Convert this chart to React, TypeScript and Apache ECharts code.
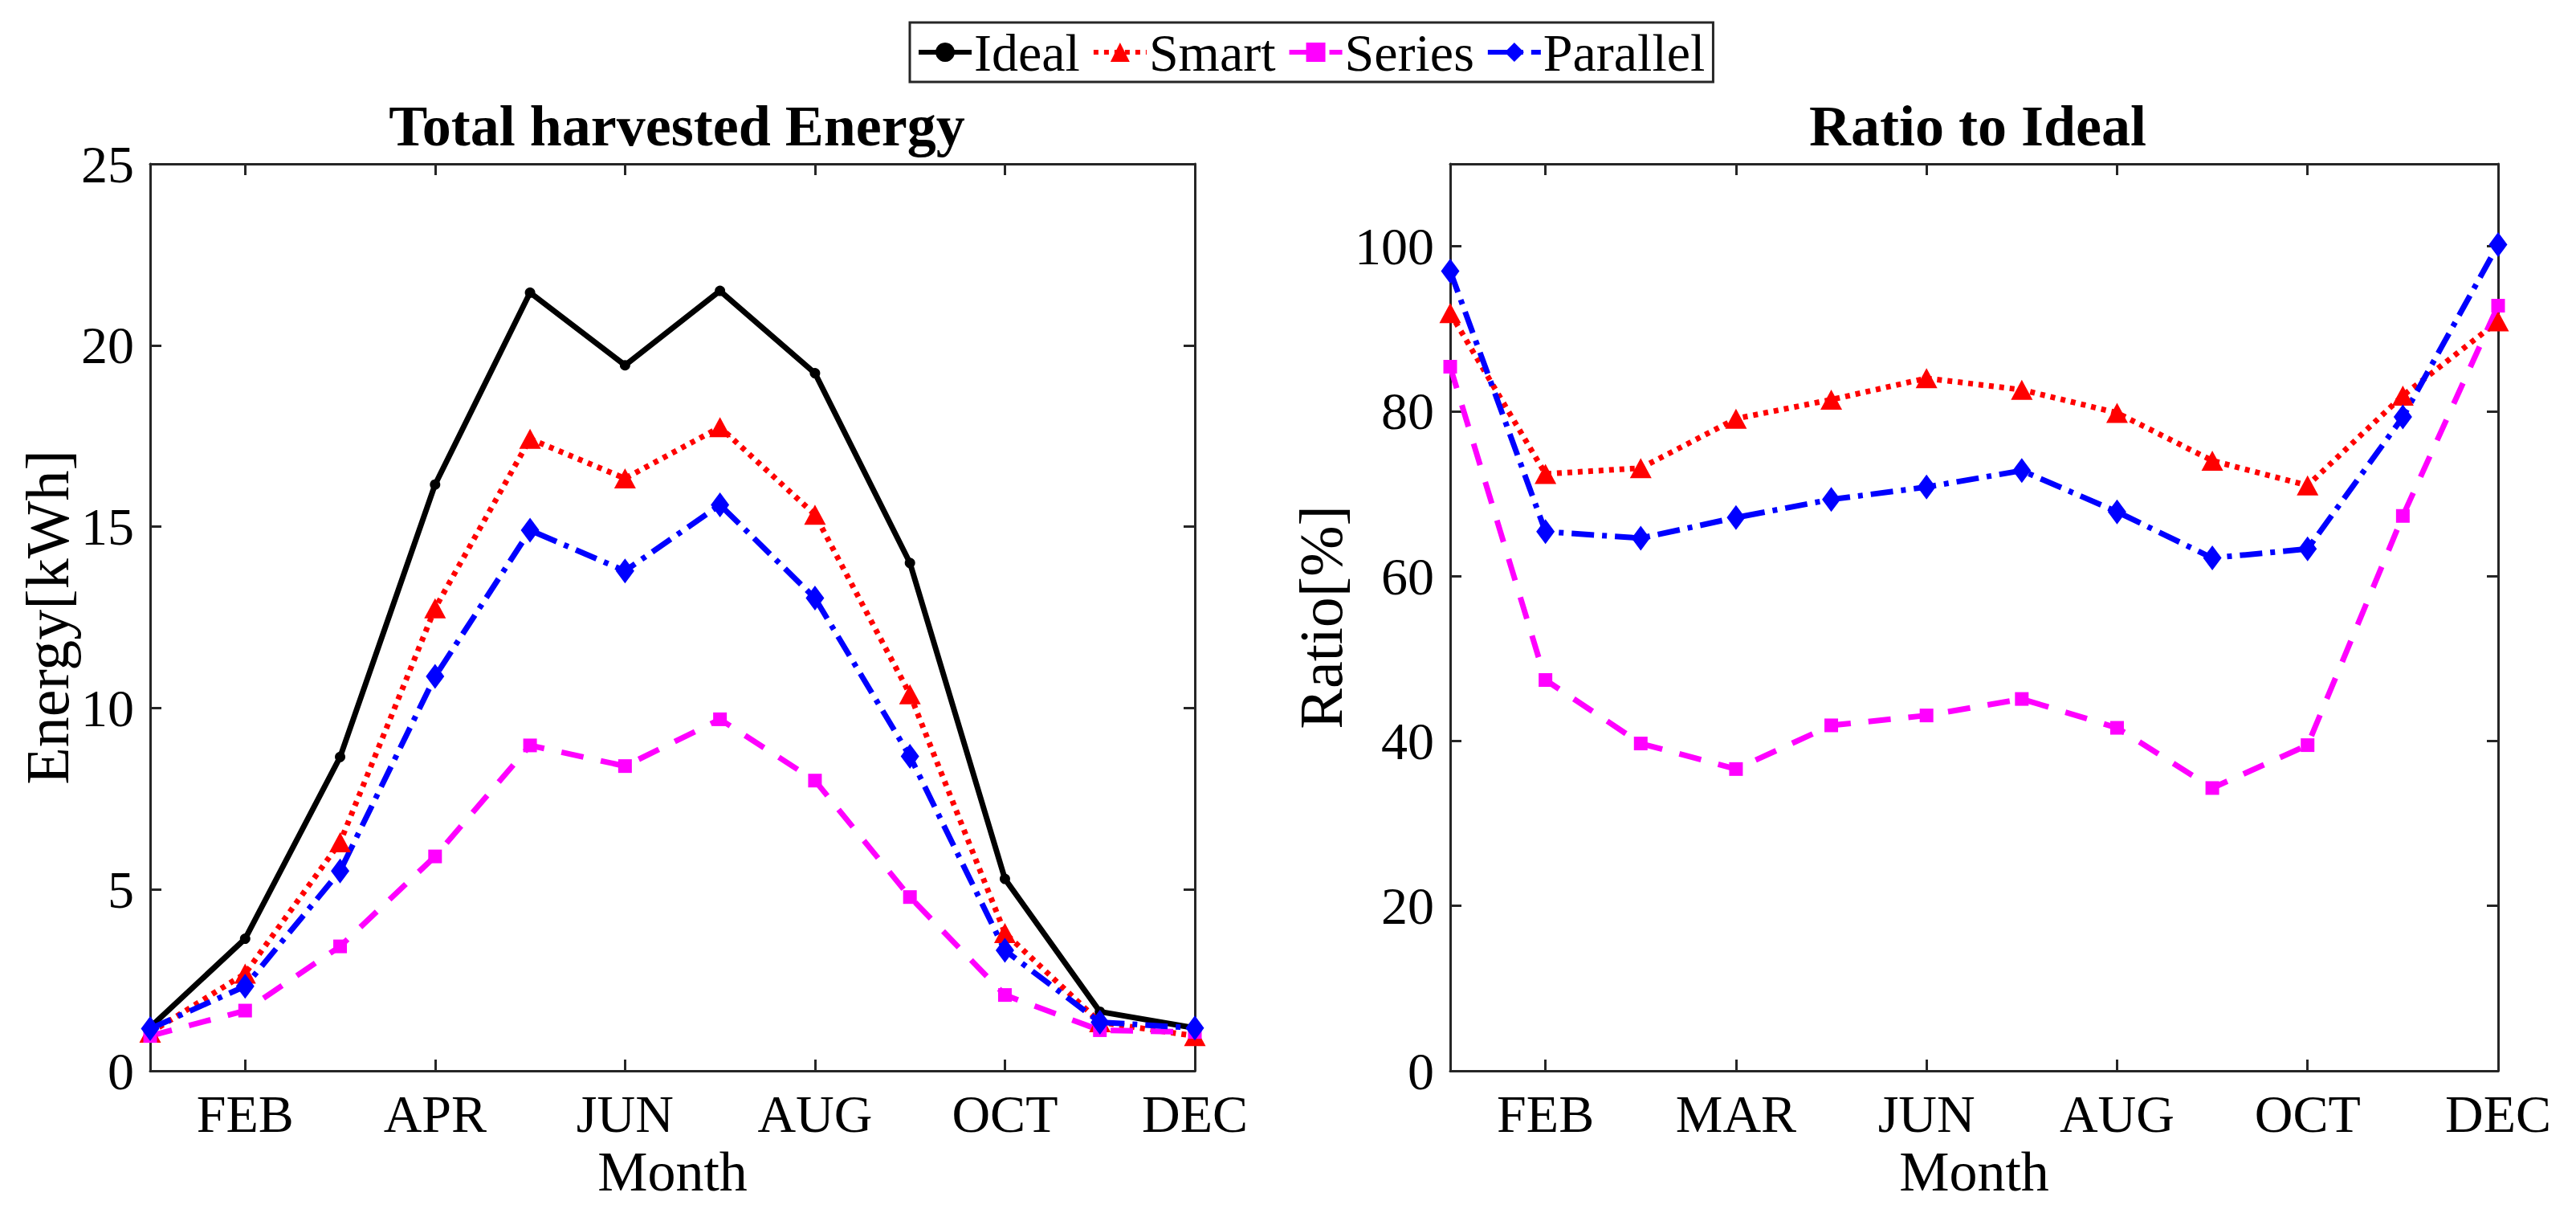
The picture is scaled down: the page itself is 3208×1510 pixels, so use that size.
import { useEffect, useRef } from "react";
import * as echarts from "echarts";

// months of the year, one point per month
const months = ["JAN", "FEB", "MAR", "APR", "MAY", "JUN", "JUL", "AUG", "SEP", "OCT", "NOV", "DEC"];
// tick labels as printed under each panel (odd months only)
const energyTickLabels = ["FEB", "APR", "JUN", "AUG", "OCT", "DEC"];
const ratioTickLabels = ["FEB", "MAR", "JUN", "AUG", "OCT", "DEC"];
const seriesNames = ["Ideal", "Smart", "Series", "Parallel"];

// total harvested energy [kWh]
const idealEnergy = [1.2, 3.64, 8.65, 16.16, 21.45, 19.45, 21.5, 19.23, 14.0, 5.29, 1.63, 1.18];
const smartEnergy = [1.05, 2.68, 6.3, 12.75, 17.42, 16.33, 17.74, 15.33, 10.38, 3.8, 1.34, 0.96];
const seriesEnergy = [0.96, 1.66, 3.43, 5.91, 8.97, 8.4, 9.69, 8.0, 4.79, 2.09, 1.12, 1.07];
const parallelEnergy = [1.16, 2.33, 5.51, 10.87, 14.9, 13.78, 15.6, 13.03, 8.67, 3.32, 1.34, 1.18];

// ratio to ideal [%]
const smartRatio = [91.9, 72.4, 73.1, 79.1, 81.4, 84.0, 82.6, 79.8, 74.0, 71.0, 81.9, 90.9];
const seriesRatio = [85.4, 47.4, 39.7, 36.6, 41.9, 43.1, 45.1, 41.6, 34.3, 39.5, 67.3, 92.8];
const parallelRatio = [97.0, 65.4, 64.6, 67.1, 69.3, 70.8, 72.8, 67.8, 62.2, 63.3, 79.3, 100.2];

const FONT = "'Liberation Serif', 'Times New Roman', serif";
const AXIS_COLOR = "#262626";

const lineLook: Record<string, any> = {
  Ideal: { color: "#000000", type: "solid", symbol: "circle", symbolSize: 13 },
  Smart: { color: "#ff0000", type: [6, 7], symbol: "triangle", symbolSize: [27, 25] },
  Series: { color: "#ff00ff", type: [28, 22], symbol: "rect", symbolSize: 17 },
  Parallel: { color: "#0000ff", type: [28, 10, 6, 10], symbol: "diamond", symbolSize: [23, 31] },
};

const oddOnly = (index: number) => index % 2 === 1;

function xAxes(gridIndex: number, tickLabels: string[]) {
  const common = {
    type: "category",
    gridIndex,
    data: months,
    boundaryGap: false,
    axisLine: { show: true, onZero: false, lineStyle: { color: AXIS_COLOR, width: 3 } },
    axisTick: { show: true, inside: true, length: 14, interval: oddOnly, lineStyle: { color: AXIS_COLOR, width: 3 } },
    splitLine: { show: false },
  };
  return [
    {
      ...common,
      position: "bottom",
      name: "Month",
      nameLocation: "middle",
      nameGap: 88,
      nameTextStyle: { fontFamily: FONT, fontSize: 70, color: "#000" },
      axisLabel: {
        interval: oddOnly,
        margin: 20,
        fontFamily: FONT,
        fontSize: 66,
        color: "#000",
        formatter: (_v: string, i: number) => tickLabels[(i - 1) / 2],
      },
    },
    { ...common, position: "top", axisLabel: { show: false } },
  ];
}

function yAxes(gridIndex: number, max: number, interval: number, name: string, nameGap: number) {
  const common = {
    type: "value",
    gridIndex,
    min: 0,
    max,
    interval,
    axisLine: { show: true, onZero: false, lineStyle: { color: AXIS_COLOR, width: 3 } },
    axisTick: { show: true, inside: true, length: 14, lineStyle: { color: AXIS_COLOR, width: 3 } },
    splitLine: { show: false },
  };
  return [
    {
      ...common,
      position: "left",
      name,
      nameLocation: "middle",
      nameGap,
      nameTextStyle: { fontFamily: FONT, fontSize: 76, color: "#000" },
      axisLabel: { margin: 20, fontFamily: FONT, fontSize: 66, color: "#000", showMaxLabel: max % interval === 0 },
    },
    { ...common, position: "right", axisLabel: { show: false } },
  ];
}

function lineSeries(name: string, data: number[], xAxisIndex: number, yAxisIndex: number) {
  const look = lineLook[name];
  return {
    name,
    type: "line",
    xAxisIndex,
    yAxisIndex,
    data,
    symbol: look.symbol,
    symbolSize: look.symbolSize,
    showAllSymbol: true,
    lineStyle: { color: look.color, width: 7, type: look.type },
    itemStyle: { color: look.color },
  };
}

export default function App() {
  const chartRef = useRef<HTMLDivElement>(null);

  useEffect(() => {
    if (!chartRef.current) return;
    const chart = echarts.init(chartRef.current, null, { renderer: "svg" });

    chart.setOption({
      animation: false,
      backgroundColor: "#ffffff",
      tooltip: { show: false },
      title: [
        {
          text: "Total harvested Energy",
          left: 830,
          top: 108,
          textAlign: "center",
          textStyle: { fontFamily: FONT, fontSize: 72, fontWeight: "bold", color: "#000" },
        },
        {
          text: "Ratio to Ideal",
          left: 2450,
          top: 108,
          textAlign: "center",
          textStyle: { fontFamily: FONT, fontSize: 72, fontWeight: "bold", color: "#000" },
        },
      ],
      legend: {
        data: seriesNames,
        left: 1125,
        top: 20,
        orient: "horizontal",
        selectedMode: false,
        itemWidth: 66,
        itemHeight: 30,
        itemGap: 14,
        padding: [4, 10, 4, 8],
        borderColor: AXIS_COLOR,
        borderWidth: 3,
        backgroundColor: "#ffffff",
        lineStyle: { width: 6 },
        textStyle: { fontFamily: FONT, fontSize: 66, color: "#000", padding: [0, 0, 0, -2] },
      },
      grid: [
        { left: 179, top: 196, width: 1301, height: 1129 },
        { left: 1798, top: 196, width: 1305, height: 1129 },
      ],
      xAxis: [...xAxes(0, energyTickLabels), ...xAxes(1, ratioTickLabels)],
      yAxis: [...yAxes(0, 25, 5, "Energy[kWh]", 82), ...yAxes(1, 110, 20, "Ratio[%]", 114)],
      series: [
        lineSeries("Ideal", idealEnergy, 0, 0),
        lineSeries("Smart", smartEnergy, 0, 0),
        lineSeries("Series", seriesEnergy, 0, 0),
        lineSeries("Parallel", parallelEnergy, 0, 0),
        lineSeries("Smart", smartRatio, 2, 2),
        lineSeries("Series", seriesRatio, 2, 2),
        lineSeries("Parallel", parallelRatio, 2, 2),
      ],
    });

    return () => {
      chart.dispose();
    };
  }, []);

  return (
    <div
      ref={chartRef}
      style={{ position: "fixed", left: 0, top: 0, width: "3208px", height: "1510px", background: "#fff" }}
    />
  );
}
